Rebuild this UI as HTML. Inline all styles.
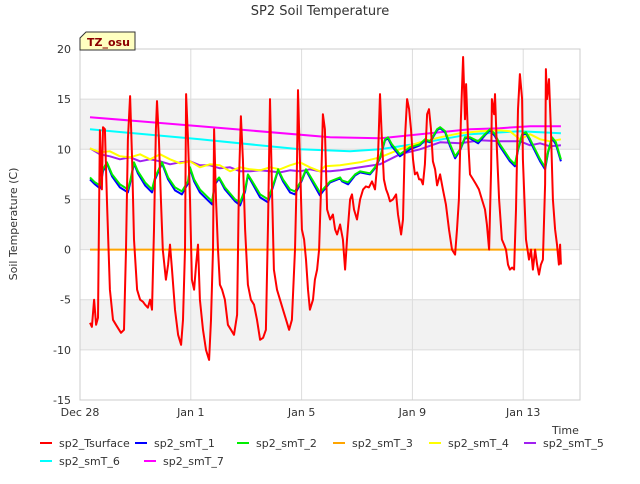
<!DOCTYPE html>
<html><head><meta charset="utf-8"><style>
body{margin:0;background:#fff;width:640px;height:480px;overflow:hidden;font-family:"DejaVu Sans","Liberation Sans",sans-serif;}
svg text{font-family:"DejaVu Sans","Liberation Sans",sans-serif;}
</style></head><body>
<svg id="chart" width="640" height="480">
<rect x="0" y="0" width="640" height="480" fill="#fff"/>
<g id="bands"></g><g id="grid"></g><g id="axes"></g><g id="series"></g>
<text x="320" y="15" text-anchor="middle" font-size="13" fill="#333">SP2 Soil Temperature</text>
<text transform="translate(17,224) rotate(-90)" text-anchor="middle" font-size="11" fill="#333">Soil Temperature (C)</text>
<text x="552" y="434" font-size="11" fill="#333">Time</text>
<g>
<path d="M80,50 L80,38 L86,32 L135,32 L135,50 Z" fill="#ffffc0" stroke="#333" stroke-width="1"/>
<text x="87" y="46" font-size="11" font-weight="bold" fill="#8b0000">TZ_osu</text>
</g>
<g id="legend"></g>
</svg>
<script>
const yTicks=[-15,-10,-5,0,5,10,15,20];
const xTickDays=[0,4,8,12,16];
const xTickLabels=["Dec 28","Jan 1","Jan 5","Jan 9","Jan 13"];
const seriesNames=["sp2_Tsurface","sp2_smT_1","sp2_smT_2","sp2_smT_3","sp2_smT_4","sp2_smT_5","sp2_smT_6","sp2_smT_7"];
const seriesColors=["#ff0000","#0000ff","#00ee00","#ffa500","#ffff00","#a020f0","#00ffff","#ff00ff"];
const tsurfT=[0.36,0.43,0.51,0.58,0.65,0.69,0.72,0.79,0.83,0.90,0.97,1.08,1.19,1.30,1.41,1.48,1.59,1.66,1.73,1.81,1.88,1.95,2.06,2.17,2.27,2.35,2.45,2.53,2.60,2.67,2.74,2.78,2.85,2.92,2.99,3.10,3.18,3.25,3.32,3.43,3.54,3.65,3.72,3.79,3.83,3.90,3.97,4.04,4.12,4.19,4.26,4.33,4.44,4.55,4.66,4.73,4.80,4.84,4.91,4.98,5.05,5.13,5.23,5.34,5.45,5.56,5.67,5.74,5.81,5.88,5.96,6.06,6.17,6.28,6.39,6.50,6.61,6.71,6.79,6.86,6.93,7.00,7.11,7.22,7.33,7.44,7.55,7.65,7.76,7.83,7.87,7.94,8.01,8.09,8.16,8.23,8.30,8.41,8.48,8.56,8.63,8.70,8.77,8.84,8.92,9.03,9.13,9.21,9.28,9.39,9.49,9.57,9.64,9.75,9.82,9.89,10.00,10.11,10.22,10.32,10.43,10.54,10.65,10.76,10.83,10.90,10.97,11.05,11.12,11.19,11.30,11.41,11.48,11.59,11.66,11.73,11.81,11.88,11.95,12.02,12.09,12.17,12.24,12.31,12.38,12.45,12.53,12.60,12.67,12.74,12.82,12.89,13.00,13.10,13.21,13.32,13.43,13.54,13.61,13.68,13.75,13.83,13.90,13.94,14.01,14.08,14.19,14.30,14.40,14.51,14.62,14.69,14.77,14.84,14.87,14.95,14.98,15.05,15.13,15.23,15.31,15.38,15.45,15.52,15.60,15.67,15.74,15.81,15.88,15.96,15.99,16.10,16.21,16.28,16.35,16.43,16.50,16.57,16.64,16.71,16.79,16.82,16.86,16.93,17.00,17.07,17.15,17.22,17.29,17.33,17.36];
const tsurfV=[-7.3,-7.7,-5.0,-7.5,-6.8,4.0,11.9,6.0,12.2,12.0,5.0,-4.0,-7.0,-7.5,-8.0,-8.3,-8.0,0.0,11.0,15.3,9.0,1.0,-4.0,-5.0,-5.2,-5.5,-5.8,-5.0,-6.0,2.0,12.0,14.8,11.0,5.0,0.0,-3.0,-1.5,0.5,-2.0,-6.0,-8.5,-9.5,-7.0,0.0,15.5,11.0,5.0,-3.0,-4.0,-1.5,0.5,-5.0,-8.0,-10.0,-11.0,-7.0,0.0,12.0,5.0,0.0,-3.5,-4.0,-5.0,-7.5,-8.0,-8.5,-6.5,7.0,13.3,9.0,2.0,-3.5,-5.0,-5.5,-7.0,-9.0,-8.8,-8.0,3.0,15.0,6.0,-2.0,-4.0,-5.0,-6.0,-7.0,-8.0,-7.0,0.0,8.0,15.9,9.0,2.0,1.0,-1.0,-4.0,-6.0,-5.0,-3.0,-2.0,0.0,6.0,13.5,12.0,4.0,3.0,3.5,2.0,1.5,2.5,1.0,-2.0,1.0,5.0,5.5,4.0,3.0,5.0,6.0,6.3,6.2,6.8,6.0,9.5,15.5,11.0,7.0,6.0,5.5,4.8,5.0,5.5,3.5,1.5,3.0,11.0,15.0,14.0,12.0,9.0,7.5,7.7,7.0,7.0,6.5,8.5,13.5,14.0,12.0,8.8,8.0,6.4,7.5,6.0,4.5,2.0,0.0,-0.5,2.0,5.0,13.0,19.2,13.0,16.5,11.0,7.5,7.0,6.5,6.0,5.0,4.0,2.5,0.0,8.0,15.0,13.5,15.5,10.0,5.0,1.0,0.5,0.0,-1.5,-2.0,-1.8,-2.0,4.0,14.0,17.5,15.0,9.0,1.0,-1.0,0.0,-2.0,0.0,-1.5,-2.5,-1.5,-1.0,6.5,18.0,15.0,17.0,12.0,5.0,2.0,0.5,-1.5,0.5,-1.5];
const smT2T=[0.36,0.54,0.72,0.83,0.97,1.16,1.44,1.73,1.81,1.95,2.09,2.35,2.60,2.71,2.96,3.18,3.43,3.68,3.90,3.97,4.12,4.33,4.62,4.77,4.87,5.02,5.23,5.60,5.78,5.96,6.06,6.24,6.50,6.79,7.04,7.15,7.33,7.58,7.76,8.01,8.16,8.38,8.66,8.77,9.03,9.39,9.46,9.68,9.93,10.11,10.47,10.65,10.83,11.01,11.12,11.26,11.55,11.91,12.27,12.45,12.64,12.89,13.00,13.18,13.36,13.54,13.72,13.90,14.08,14.37,14.62,14.80,14.98,15.16,15.52,15.70,15.81,15.96,16.10,16.25,16.61,16.79,16.90,17.04,17.18,17.36];
const smT2V=[7.2,6.7,6.4,8.0,8.7,7.5,6.5,6.0,6.8,8.7,7.8,6.7,6.0,7.2,8.7,7.2,6.2,5.8,6.8,8.2,7.0,6.0,5.2,4.8,6.7,7.2,6.2,5.0,4.7,6.0,7.5,6.7,5.5,5.0,7.0,8.0,7.0,6.0,5.8,7.0,8.0,7.0,5.7,6.0,6.8,7.2,6.9,6.7,7.5,7.8,7.6,8.2,9.2,11.0,11.2,10.5,9.5,10.2,10.5,11.0,10.8,12.0,12.2,11.8,10.5,9.3,10.0,11.2,11.2,10.8,11.5,12.0,11.5,10.5,9.0,8.5,10.0,11.5,11.7,11.0,9.0,8.2,9.8,11.2,10.7,9.0];
const smT1V=[7.0,6.5,6.1,7.8,8.6,7.3,6.2,5.7,6.6,8.6,7.6,6.4,5.7,7.0,8.6,7.0,5.9,5.5,6.6,8.1,6.8,5.7,4.9,4.5,6.5,7.1,6.0,4.8,4.4,5.8,7.4,6.5,5.2,4.7,6.9,7.9,6.8,5.7,5.5,6.9,7.9,6.8,5.4,5.8,6.7,7.1,6.8,6.5,7.4,7.7,7.5,8.1,9.1,10.9,11.1,10.3,9.3,10.0,10.4,10.9,10.7,11.9,12.1,11.7,10.3,9.1,9.9,11.1,11.1,10.6,11.4,11.9,11.3,10.3,8.8,8.3,9.9,11.4,11.6,10.8,8.8,8.0,9.7,11.1,10.5,8.8];
const smT3T=[0.36,17.36];
const smT3V=[0,0];
const smT4T=[0.36,0.72,1.08,1.44,1.81,2.17,2.53,2.89,3.25,3.61,3.97,4.33,4.69,5.05,5.42,5.78,6.14,6.50,6.86,7.22,7.58,7.94,8.30,8.66,8.84,9.39,10.11,10.83,11.55,12.27,13.00,13.72,14.44,15.16,15.52,15.88,16.25,16.61,16.97,17.36];
const smT4V=[10.1,9.7,9.8,9.3,9.2,9.5,9.0,9.5,9.0,8.6,8.8,8.2,8.5,8.4,7.8,8.2,8.0,7.9,8.2,8.0,8.4,8.7,8.2,7.8,8.3,8.4,8.7,9.2,10.0,10.7,11.2,11.6,11.8,11.9,11.8,11.0,11.5,11.0,10.8,11.0];
const smT5T=[0.36,0.72,1.08,1.44,1.81,2.17,2.53,2.89,3.25,3.61,3.97,4.33,4.69,5.05,5.42,5.78,6.14,6.50,6.86,7.22,7.58,7.94,8.30,8.66,9.03,9.39,10.11,10.83,11.55,12.27,13.00,13.72,14.44,15.16,15.88,16.25,16.61,16.97,17.36];
const smT5V=[10.1,9.5,9.3,9.0,9.2,8.8,9.0,8.8,8.5,8.7,8.8,8.4,8.4,8.1,8.2,7.8,7.8,7.9,7.8,7.7,7.9,7.8,8.0,7.8,7.8,7.9,8.2,8.5,9.5,10.0,10.7,10.6,10.9,10.8,10.8,10.4,10.6,10.3,10.4];
const smT6T=[0.36,4.33,7.94,9.75,10.83,12.27,14.08,15.88,17.36];
const smT6V=[12.0,11.0,10.0,9.8,10.0,10.6,11.5,11.8,11.6];
const smT7T=[0.36,4.33,9.03,10.83,12.27,14.08,15.16,16.25,17.36];
const smT7V=[13.2,12.3,11.2,11.1,11.5,12.0,12.1,12.3,12.3];

const X0=80,X1=580,Y0=49,Y1=400,DMAX=18.05,VMIN=-15,VMAX=20;
function xs(d){return X0+(d/DMAX)*(X1-X0);}
function ys(v){return Y1-(v-VMIN)/(VMAX-VMIN)*(Y1-Y0);}
const NS="http://www.w3.org/2000/svg";
function mk(tag,attrs,parent){const e=document.createElementNS(NS,tag);for(const k in attrs)e.setAttribute(k,attrs[k]);parent.appendChild(e);return e;}
const bands=document.getElementById('bands'),grid=document.getElementById('grid'),axes=document.getElementById('axes'),ser=document.getElementById('series'),leg=document.getElementById('legend');
for(let i=0;i<yTicks.length-1;i++){
  if(i%2===1){const r=mk('rect',{x:X0,y:ys(yTicks[i+1]),width:X1-X0,height:ys(yTicks[i])-ys(yTicks[i+1]),fill:'#f2f2f2'},bands);
  
  }
}
yTicks.forEach(v=>{
  const l=mk('line',{x1:X0,x2:X1,y1:ys(v),y2:ys(v),stroke:'#dcdcdc','stroke-width':1},grid);
  
  
  const t=mk('text',{x:X0-9,y:ys(v)+4,'text-anchor':'end','font-size':11,fill:'#333'},axes);t.textContent=v;
  
  
});
xTickDays.forEach((d,i)=>{
  const l=mk('line',{x1:xs(d),x2:xs(d),y1:Y0,y2:Y1,stroke:'#dcdcdc','stroke-width':1},grid);
  
  
  const t=mk('text',{x:xs(d),y:Y1+16,'text-anchor':'middle','font-size':11,fill:'#333'},axes);t.textContent=xTickLabels[i];
  
  
});
const fr=mk('rect',{x:X0,y:Y0,width:X1-X0,height:Y1-Y0,fill:'none',stroke:'#ccc'},axes);


const allT=[tsurfT,smT2T,smT2T,smT3T,smT4T,smT5T,smT6T,smT7T];
const allV=[tsurfV,smT1V,smT2V,smT3V,smT4V,smT5V,smT6V,smT7V];
const order=[3,6,7,5,4,1,2,0];
order.forEach(i=>{
  const pts=allT[i].map((d,j)=>xs(d).toFixed(1)+','+ys(allV[i][j]).toFixed(1)).join(' ');
  const p=mk('polyline',{points:pts,fill:'none',stroke:seriesColors[i],'stroke-width':2,'stroke-linejoin':'round'},ser);
  
  
});
const legX=[40,135,237,333,429,524,40,144],legY=[443,443,443,443,443,443,461,461];
seriesNames.forEach((n,i)=>{
  const g=mk('g',{},leg);
  
  
  mk('line',{x1:legX[i],x2:legX[i]+12,y1:legY[i],y2:legY[i],stroke:seriesColors[i],'stroke-width':2},g);
  const t=mk('text',{x:legX[i]+19,y:legY[i]+4,'font-size':11,fill:'#333'},g);t.textContent=n;
});
</script>
</body></html>
